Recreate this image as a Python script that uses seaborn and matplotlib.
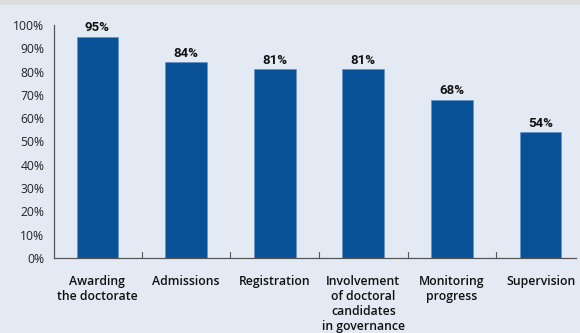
import matplotlib
matplotlib.use("Agg")
import matplotlib.pyplot as plt
from matplotlib import font_manager
import seaborn as sns
import pandas as pd
from matplotlib.patches import Rectangle

categories = ["Awarding\nthe doctorate", "Admissions", "Registration",
              "Involvement\nof doctoral\ncandidates\nin governance",
              "Monitoring\nprogress", "Supervision"]
values = [95, 84, 81, 81, 68, 54]
yticks = [0, 10, 20, 30, 40, 50, 60, 70, 80, 90, 100]
ytick_labels = [f"{v}%" for v in yticks]

df = pd.DataFrame({"cat": categories, "val": values})

names = {f.name for f in font_manager.fontManager.ttflist}
narrow = "Liberation Sans Narrow" if "Liberation Sans Narrow" in names else "Roboto"

sns.set_style("white")
bg = "#e4eaf4"
fig = plt.figure(figsize=(5.8, 3.33), dpi=100, facecolor=bg)
fig.patches.append(Rectangle((0, 1 - 5/333), 1, 5/333, transform=fig.transFigure,
                             facecolor="#dedede", edgecolor="none", zorder=0))
ax = fig.add_axes([54/580, 75/333, (576-54)/580, (258-25)/333])
ax.set_facecolor(bg)

sns.barplot(data=df, x="cat", y="val", color="#0a5298", width=0.47,
            saturation=1, ax=ax, edgecolor="#5f8fc4", linewidth=0.4)

ax.set_ylim(0, 100)
ax.set_xlim(-0.49, 5.4)
ax.set_yticks(yticks)
ax.set_yticklabels(ytick_labels, fontsize=8.7, color="#222222", family="Open Sans")
ax.tick_params(axis="y", direction="in", length=14, width=0.8, color="#555555", pad=7)
ax.set_xticks(range(len(categories)))
ax.set_xticklabels(categories, fontsize=8.8, fontweight="semibold", color="#111111",
                   family="Open Sans", linespacing=1.2, va="top")
ax.tick_params(axis="x", length=0, pad=12)
for b in [0.5, 1.5, 2.5, 3.5, 4.5]:
    ax.plot([b, b], [0, 2.5], color="#555555", lw=0.8, clip_on=False)
ax.set_xlabel("")
ax.set_ylabel("")
for s in ["top", "right"]:
    ax.spines[s].set_visible(False)
for s in ["left", "bottom"]:
    ax.spines[s].set_color("#555555")
    ax.spines[s].set_linewidth(0.9)

for i, v in enumerate(values):
    ax.text(i, v + 1.0, f"{v}%", ha="center", va="bottom", fontsize=9.5,
            fontweight="bold", family=[narrow, "DejaVu Sans"],
            color="#111111")

fig.savefig("out.png", dpi=100, facecolor=bg)
